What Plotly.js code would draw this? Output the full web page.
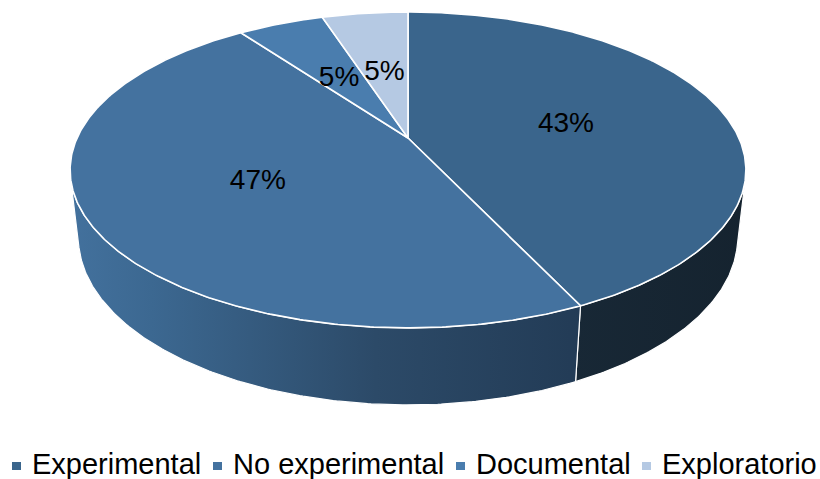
<!DOCTYPE html>
<html>
<head>
<meta charset="utf-8">
<script src="https://cdn.plot.ly/plotly-3.0.1.min.js"></script>
<style>
  html, body { margin: 0; padding: 0; background: #ffffff; }
  #chart { width: 820px; height: 479px; }
</style>
</head>
<body>
<div id="chart"></div>
<script>
// Research design categories and their shares (%)
const categories = ['Experimental', 'No experimental', 'Documental', 'Exploratorio'];
const shares = [43, 47, 5, 5];
const pctLabels = ['43%', '47%', '5%', '5%'];

// Slice colours: top face, and side gradient (left -> right)
const topColors = ['#3A658C', '#44729F', '#4A7DAE', '#B5C9E3'];
const sideScales = [
  [[0, '#203649'], [1, '#15232F']],
  [[0, '#43719D'], [0.12, '#3C6891'], [0.45, '#2C4A68'], [0.8, '#213953'], [1, '#1C3044']],
  [[0, '#2E4E70'], [1, '#1E3448']],
  [[0, '#2E4E70'], [1, '#1E3448']]
];

// Perspective camera for the tilted disc (unit radius, thickness H)
const cam = { cx: 408, cy: 138, F: 1453, D: 4.391, phi: 27.24 * Math.PI / 180, H: 0.2306 };
const sinP = Math.sin(cam.phi), cosP = Math.cos(cam.phi);

function project(X, Y, Z) {
  const zc = cam.D + Y * cosP - Z * sinP;
  return [cam.cx + cam.F * X / zc, cam.cy - cam.F * (Y * sinP + Z * cosP) / zc];
}
// angle measured clockwise from 12 o'clock (degrees)
function rimPoint(deg, r, Z) {
  const a = deg * Math.PI / 180;
  return project(r * Math.sin(a), r * Math.cos(a), Z);
}
function arc(a0, a1, r, Z) {
  const pts = [];
  const n = Math.max(2, Math.ceil(Math.abs(a1 - a0) / 0.5));
  for (let i = 0; i <= n; i++) pts.push(rimPoint(a0 + (a1 - a0) * i / n, r, Z));
  return pts;
}

// Side wall is visible where the outward normal faces the camera
const yLimit = -1 / (cam.D * cosP);
const visA = Math.acos(yLimit) * 180 / Math.PI;   // ~104.8
const visB = 360 - visA;                          // ~255.2

const total = shares.reduce((s, v) => s + v, 0);
const starts = [], ends = [];
let acc = 0;
shares.forEach(v => { starts.push(acc / total * 360); acc += v; ends.push(acc / total * 360); });

const traces = [];

// Side walls
shares.forEach((v, i) => {
  const a0 = Math.max(starts[i], visA), a1 = Math.min(ends[i], visB);
  if (a1 <= a0) return;
  const topArc = arc(a0, a1, 1, 0);
  const botArc = arc(a0, a1, 1, -cam.H).reverse();
  const pts = topArc.concat(botArc);
  pts.push(topArc[0]);
  traces.push({
    type: 'scatter', mode: 'lines', showlegend: false, hoverinfo: 'skip',
    x: pts.map(p => p[0]), y: pts.map(p => p[1]),
    fill: 'toself',
    fillgradient: { type: 'horizontal', start: 70, stop: 750, colorscale: sideScales[i] },
    line: { color: '#ffffff', width: 1.2 }
  });
});

// Top faces
shares.forEach((v, i) => {
  const c = project(0, 0, 0);
  const pts = [c].concat(arc(starts[i], ends[i], 1, 0));
  pts.push(c);
  traces.push({
    type: 'scatter', mode: 'lines', name: categories[i], showlegend: false,
    x: pts.map(p => p[0]), y: pts.map(p => p[1]),
    fill: 'toself', fillcolor: topColors[i],
    line: { color: '#ffffff', width: 1.6 },
    hoverinfo: 'name'
  });
});

// Percentage labels at half radius on each slice (small downward nudge for the glyph baseline)
const labelDy = 3;
const labelPts = shares.map((v, i) => rimPoint((starts[i] + ends[i]) / 2, 0.5, 0));
traces.push({
  type: 'scatter', mode: 'text', showlegend: false, hoverinfo: 'skip',
  x: labelPts.map(p => p[0]), y: labelPts.map(p => p[1] + labelDy),
  text: pctLabels, textposition: 'middle center',
  textfont: { family: 'Liberation Sans, Arial, sans-serif', size: 28, color: '#000000' }
});

// Legend row along the bottom
const legendX = [12, 213, 456, 642];
const legendY = 466;
const shapes = categories.map((c, i) => ({
  type: 'rect', xref: 'x', yref: 'y',
  x0: legendX[i], x1: legendX[i] + 9, y0: legendY - 4, y1: legendY + 4,
  fillcolor: topColors[i], line: { width: 0 }
}));
const annotations = categories.map((c, i) => ({
  xref: 'x', yref: 'y', x: legendX[i] + 18, y: legendY - 2,
  xanchor: 'left', yanchor: 'middle', showarrow: false, text: c,
  font: { family: 'Liberation Sans, Arial, sans-serif', size: 29, color: '#000000' }
}));

const layout = {
  width: 820, height: 479,
  margin: { l: 0, r: 0, t: 0, b: 0, pad: 0 },
  paper_bgcolor: '#ffffff', plot_bgcolor: '#ffffff',
  showlegend: false,
  xaxis: { range: [0, 820], visible: false, fixedrange: true },
  yaxis: { range: [479, 0], visible: false, fixedrange: true },
  shapes: shapes,
  annotations: annotations
};

Plotly.newPlot('chart', traces, layout, { displayModeBar: false, staticPlot: true });
</script>
</body>
</html>
